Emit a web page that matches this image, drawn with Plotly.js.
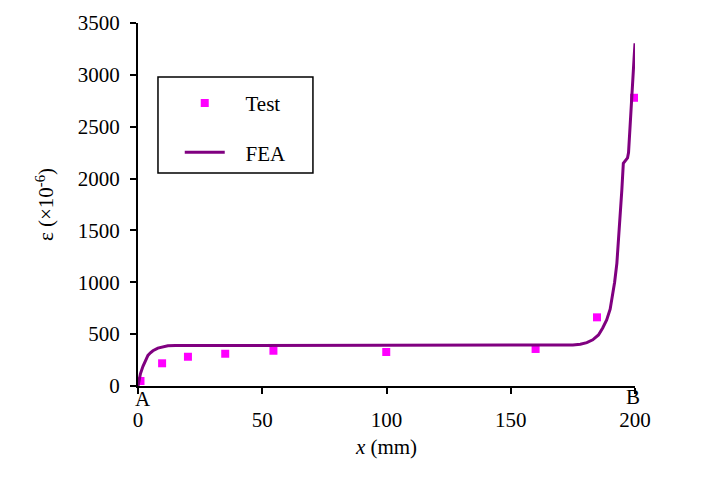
<!DOCTYPE html>
<html>
<head>
<meta charset="utf-8">
<script src="https://cdn.plot.ly/plotly-3.0.1.min.js"></script>
<style>html,body{margin:0;padding:0;background:#fff;}#chart{width:701px;height:477px;}</style>
</head>
<body>
<div id="chart"></div>
<script>
// Test data
const test_x = [1, 9.7, 20.1, 35.1, 54.5, 99.9, 160, 184.7, 199.6];
const test_y = [48, 219, 282, 311, 340, 328, 357, 662, 2779];

// FEA curve
const fea_x = [0, 0.5, 1, 2, 3, 4, 5, 6, 8, 10, 12, 15, 20, 50, 100, 150, 170, 175, 178, 180.6, 183, 185.3, 187, 188.6, 190, 190.7, 191.8, 192.7, 193.7, 194.7, 195.3, 196.2, 197.0, 197.4, 198.0, 198.6, 199.1, 199.6, 200];
const fea_y = [0, 60, 120, 190, 250, 295, 320, 340, 365, 380, 388, 390, 390, 390, 390, 390, 392, 395, 402, 418, 445, 492, 560, 636, 740, 829, 1000, 1183, 1504, 1889, 2147, 2180, 2200, 2250, 2532, 2750, 2950, 3150, 3304];

const x_ticks = [0, 50, 100, 150, 200];
const y_ticks = [0, 500, 1000, 1500, 2000, 2500, 3000, 3500];

const FONT = 'Liberation Serif, Times New Roman, serif';

const traces = [
  {
    x: test_x, y: test_y, type: 'scatter', mode: 'markers', name: '&nbsp;&nbsp;&nbsp;Test',
    marker: {symbol: 'square', size: 8, color: '#FF00FF'},
    cliponaxis: false, legendgroup: 'a'
  },
  {
    x: fea_x, y: fea_y, type: 'scatter', mode: 'lines', name: '&nbsp;&nbsp;&nbsp;FEA',
    line: {color: '#800080', width: 3}, legendgroup: 'b'
  }
];

const layout = {
  width: 701, height: 477,
  margin: {l: 138, r: 66, t: 23, b: 91},
  paper_bgcolor: '#fff', plot_bgcolor: '#fff',
  font: {family: FONT, size: 21, color: '#000'},
  showlegend: true,
  legend: {
    x: 0.084, y: 0.835, xanchor: 'left', yanchor: 'top',
    borderwidth: 0, bgcolor: 'rgba(0,0,0,0)',
    font: {family: FONT, size: 21, color: '#000'},
    itemwidth: 40, traceorder: 'grouped', tracegroupgap: 19
  },
  shapes: [
    {type: 'rect', xref: 'paper', yref: 'paper', x0: 0.0402, x1: 0.352, y0: 0.587, y1: 0.851,
     line: {color: '#000', width: 1.5}, fillcolor: 'rgba(0,0,0,0)', layer: 'above'}
  ],
  xaxis: {
    range: [0, 200], tickvals: x_ticks, ticktext: x_ticks.map(String),
    showline: true, linecolor: '#000', linewidth: 2,
    ticks: 'outside', ticklen: 6, tickwidth: 2, tickcolor: '#000',
    showgrid: false, zeroline: false, ticklabelstandoff: 8,
    title: {text: '<i>x</i> (mm)', font: {family: FONT, size: 21}, standoff: 8}
  },
  yaxis: {
    range: [0, 3500], tickvals: y_ticks, ticktext: y_ticks.map(String),
    showline: true, linecolor: '#000', linewidth: 2,
    ticks: 'outside', ticklen: 6, tickwidth: 2, tickcolor: '#000',
    showgrid: false, zeroline: false, ticklabelstandoff: 6,
    title: {text: 'ε (×10<sup>-6</sup>)', font: {family: FONT, size: 21}, standoff: 18}
  },
  annotations: [
    {x: 2, y: 0, xref: 'x', yref: 'y', text: 'A', showarrow: false, yanchor: 'top', yshift: 1, font: {family: FONT, size: 21}},
    {x: 199, y: 0, xref: 'x', yref: 'y', text: 'B', showarrow: false, yanchor: 'top', yshift: 3, font: {family: FONT, size: 21}}
  ]
};

Plotly.newPlot('chart', traces, layout, {displayModeBar: false, staticPlot: true});
</script>
</body>
</html>
